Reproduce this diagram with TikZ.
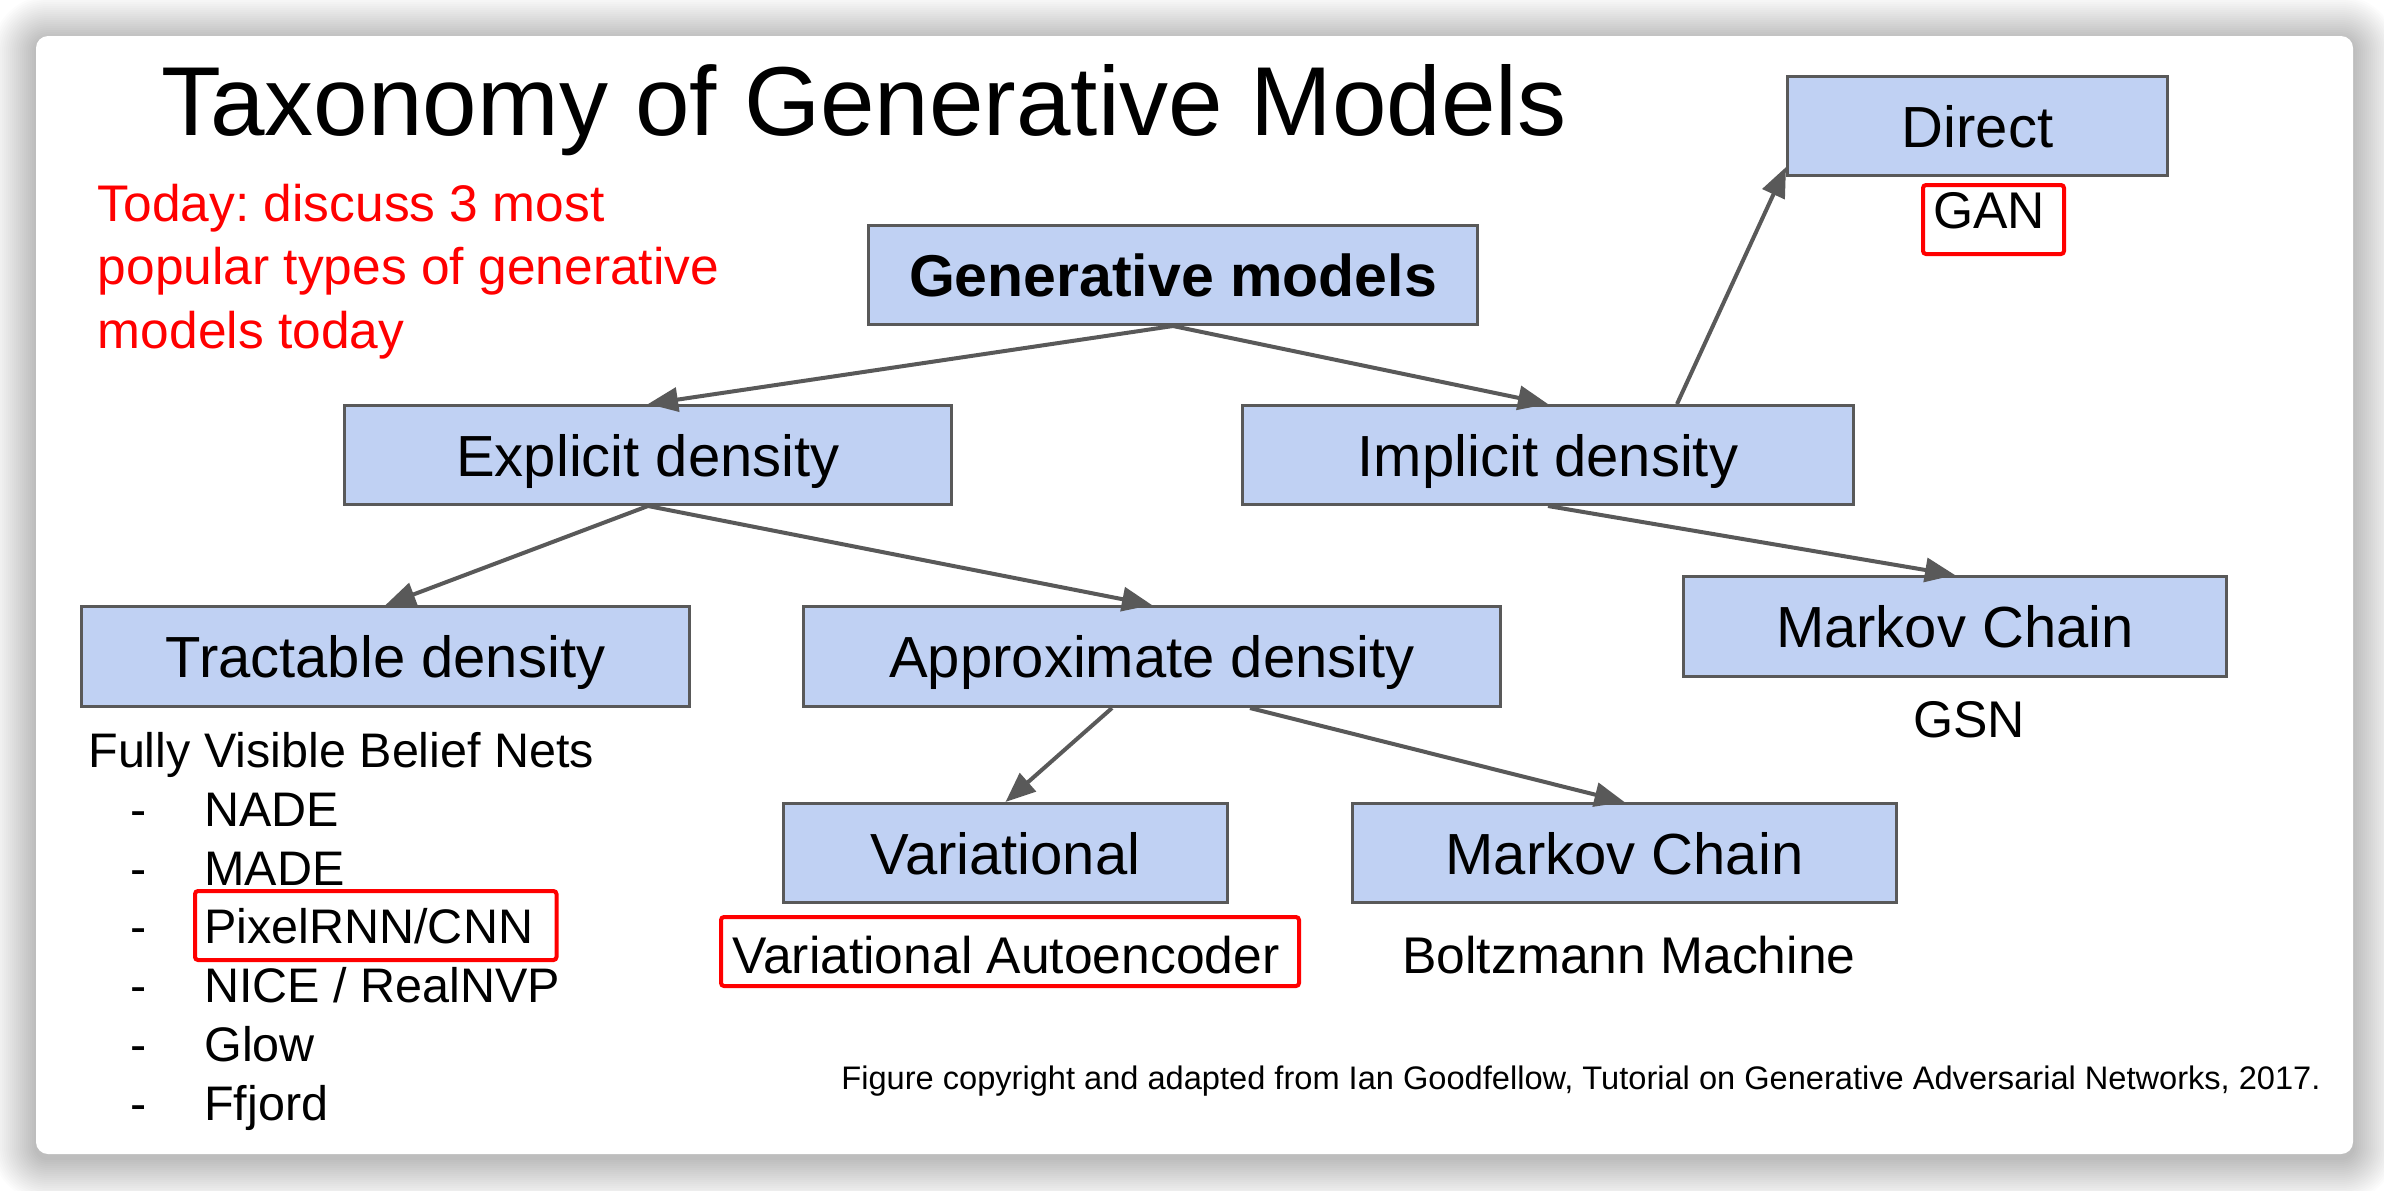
\documentclass[tikz,border=0pt]{standalone}
\usepackage{fontspec}
\setmainfont{Liberation Sans}
\usetikzlibrary{arrows.meta,calc}
\definecolor{boxfill}{HTML}{C0D1F3}
\definecolor{edgegrey}{HTML}{595959}
\definecolor{hlred}{HTML}{FF0000}
\frenchspacing
\begin{document}
\begin{tikzpicture}[x=0.5pt,y=-0.5pt,
  box/.style={draw=edgegrey, line width=1.5pt, fill=boxfill, inner sep=0pt,
    font=\fontsize{29}{34}\selectfont, text height=21pt, text depth=0pt},
  hl/.style={draw=hlred, line width=2pt, rounded corners=1.5pt, inner sep=0pt},
  conn/.style={draw=edgegrey, line width=2pt, -{Triangle[length=15pt,width=12pt]}},
  lbl/.style={inner sep=0pt, anchor=base, font=\fontsize{25.8}{31}\selectfont},
  item/.style={inner sep=0pt, anchor=base west, font=\fontsize{24.25}{29}\selectfont},
]
\useasboundingbox (0,0) rectangle (2384,1190);
\fill[white] (0,0) rectangle (2384,1190);

% soft shadow under the card
\foreach \k in {1,...,22}{
  \pgfmathsetmacro{\r}{6+\k}
  \fill[black, opacity=0.01, rounded corners=\r pt]
    ({36-2*\k},{40-2*\k}) rectangle ({2353+2*\k},{1158+2*\k});
}
% the card
\fill[white, rounded corners=6pt] (36,36) rectangle (2353,1154);

% title and note (the note is anchored on its last line)
\node[anchor=base west, inner sep=0pt, font=\fontsize{49}{58}\selectfont]
  (title) at (161,135) {Taxonomy of Generative Models};
\node[anchor=base west, inner sep=0pt, align=left, text=hlred,
  font=\fontsize{25.75}{31.75}\selectfont]
  (note) at (97.5,348) {Today: discuss 3 most\\popular types of generative\\models today};

% tree boxes
\node[box, minimum width=304.5pt, minimum height=49.5pt,
  font=\bfseries\fontsize{29.5}{34}\selectfont] (gen) at (1173,275) {Generative models};
\node[box, minimum width=303.5pt, minimum height=49.5pt] (expl) at (648,455) {Explicit density};
\node[box, minimum width=305.5pt, minimum height=49.5pt] (impl) at (1548,455) {Implicit density};
\node[box, minimum width=190pt, minimum height=49.5pt] (direct) at (1977.5,126) {Direct};
\node[box, minimum width=271.5pt, minimum height=50pt] (mcA) at (1955,626.5) {Markov Chain};
\node[box, minimum width=304pt, minimum height=50pt] (tract) at (385.5,656.5) {Tractable density};
\node[box, minimum width=348.5pt, minimum height=50pt] (approx) at (1152,656.5) {Approximate density};
\node[box, minimum width=222pt, minimum height=49.5pt] (vari) at (1005.5,853) {Variational};
\node[box, minimum width=272pt, minimum height=49.5pt] (mcB) at (1624.5,853) {Markov Chain};

% connectors
\draw[conn] (gen.south) -- (expl.north);
\draw[conn] (gen.south) -- (impl.north);
\draw[conn] ($(impl.north)+(129,0)$) -- ($(direct.south west)+(0,-10)$);
\draw[conn] (impl.south) -- (mcA.north);
\draw[conn] (expl.south) -- (tract.north);
\draw[conn] (expl.south) -- (approx.north);
\draw[conn] ($(approx.south)+(-40,0)$) -- (vari.north);
\draw[conn] ($(approx.south)+(98,0)$) -- (mcB.north);

% model names under the boxes
\node[lbl] (gan) at (1989,228.5) {GAN};
\node[lbl] (gsn) at (1969,737) {GSN};
\node[lbl] (vae) at (1006,973) {Variational Autoencoder};
\node[lbl] (boltz) at (1629,973) {Boltzmann Machine};

\node[item] (fvbn) at (88,767) {Fully Visible Belief Nets};
\node[item] (i1) at (130,826.5) {\makebox[37pt][l]{-}NADE};
\node[item] (i2) at (130,885) {\makebox[37pt][l]{-}MADE};
\node[item] (i3) at (130,943) {\makebox[37pt][l]{-}PixelRNN/CNN};
\node[item] (i4) at (130,1002.5) {\makebox[37pt][l]{-}NICE / RealNVP};
\node[item] (i5) at (130,1061) {\makebox[37pt][l]{-}Glow};
\node[item] (i6) at (130,1120) {\makebox[37pt][l]{-}Ffjord};

% red highlight frames
\node[hl, minimum width=70.5pt, minimum height=34.5pt] (ganbox) at (1993.5,219.5) {};
\node[hl, minimum width=289pt, minimum height=34.5pt] (vaebox) at (1010,951.5) {};
\node[hl, minimum width=180.75pt, minimum height=34.5pt] (pixbox) at (375.75,925.5) {};

% source line
\node[anchor=base west, inner sep=0pt, font=\fontsize{16.3}{19}\selectfont]
  (credit) at (841,1089) {Figure copyright and adapted from Ian Goodfellow, Tutorial on Generative Adversarial Networks, 2017.};
\end{tikzpicture}
\end{document}
